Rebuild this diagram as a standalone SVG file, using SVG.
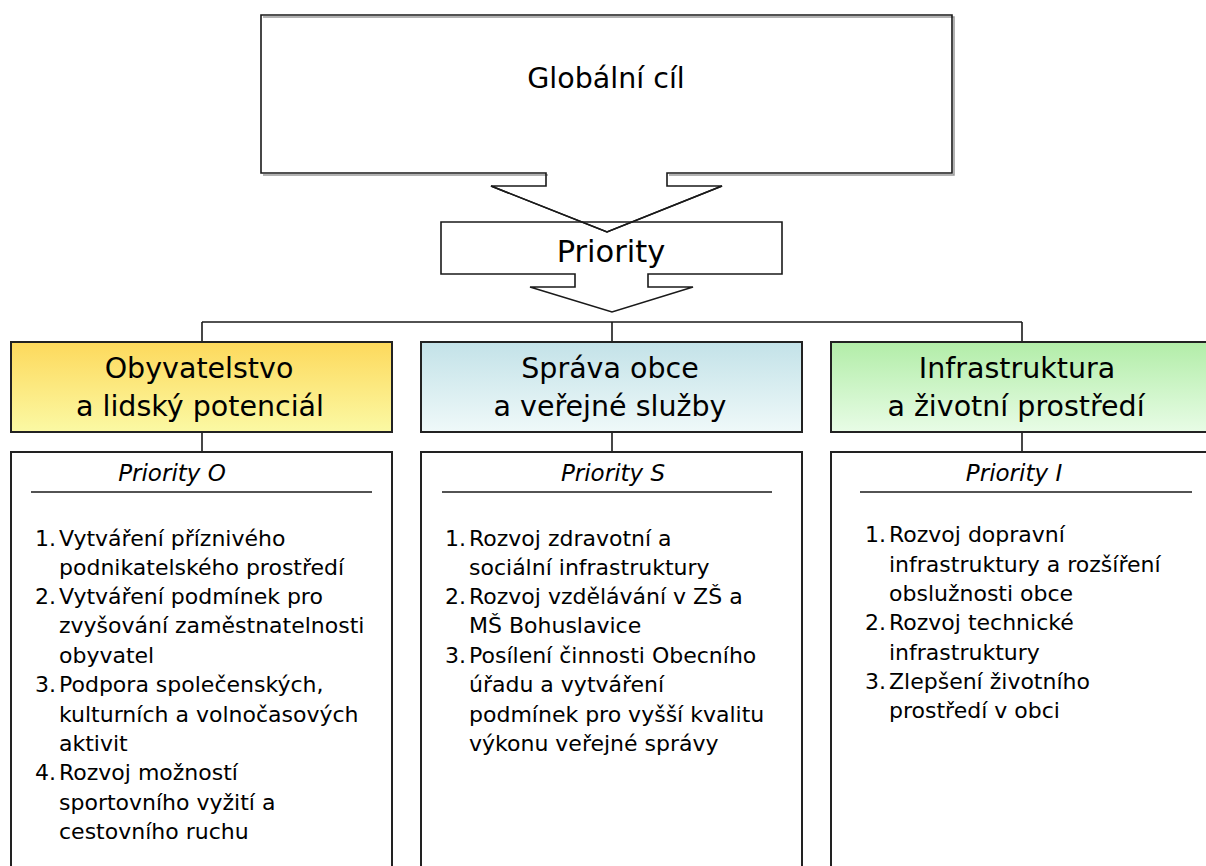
<svg xmlns="http://www.w3.org/2000/svg" width="1206" height="866" viewBox="0 0 1206 866">
<defs>
<linearGradient id="gY" x1="0" y1="0" x2="0" y2="1"><stop offset="0" stop-color="#FDD95C"/><stop offset="1" stop-color="#FBF9A4"/></linearGradient>
<linearGradient id="gB" x1="0" y1="0" x2="0" y2="1"><stop offset="0" stop-color="#C3E2E8"/><stop offset="1" stop-color="#EFF9F9"/></linearGradient>
<linearGradient id="gG" x1="0" y1="0" x2="0" y2="1"><stop offset="0" stop-color="#B2EDA8"/><stop offset="1" stop-color="#E8FCE6"/></linearGradient>
<style>
.ln{fill:none;stroke:#1a1a1a;stroke-width:1.6}
.bx{stroke:#222;stroke-width:2}
.shadow{fill:none;stroke:#999;stroke-width:1.5}
.t{font-family:"DejaVu Sans",sans-serif;fill:#000}
.big{font-size:28.5px;text-anchor:middle}
.sub{font-size:23px;font-style:italic;text-anchor:middle}
.li{font-size:22px}
</style>
</defs>
<g id="globalni-cil">
<path class="shadow" d="M263,17 H954 V175 H669 M548,175 H263"/>
<path d="M261,15 H952 V173 H667 V186 H722 L607,232 L491,186 H546 V173 H261 Z" class="ln" fill="#fff"/>
<text class="t big" x="606" y="88">Globální cíl</text>
</g>
<g id="priority">
<path d="M441,222 H782 V274 H648 V287 H693 L612,312 L530,287 H575 V274 H441 Z" class="ln" fill="none"/>
<path d="M491,186 L607,232 L722,186" class="ln"/>
<text class="t big" x="611" y="262" style="font-size:30.5px">Priority</text>
</g>
<g id="connectors">
<path class="ln" d="M202,322 H1022 M202,322 V342 M612,322 V342 M1022,322 V342 M202,432 V452 M612,432 V452 M1022,432 V452"/>
</g>
<g id="obyvatelstvo">
<rect class="bx" x="11" y="342" width="381" height="90" fill="url(#gY)"/>
<text class="t big" x="199" y="378">Obyvatelstvo</text>
<text class="t big" x="200" y="416">a lidský potenciál</text>
</g>
<g id="sprava">
<rect class="bx" x="421" y="342" width="381" height="90" fill="url(#gB)"/>
<text class="t big" x="610" y="378">Správa obce</text>
<text class="t big" x="610" y="416">a veřejné služby</text>
</g>
<g id="infrastruktura">
<rect class="bx" x="831" y="342" width="390" height="90" fill="url(#gG)"/>
<text class="t big" x="1017" y="378">Infrastruktura</text>
<text class="t big" x="1016" y="416">a životní prostředí</text>
</g>
<g id="priority-o">
<rect class="bx" x="11" y="452" width="381" height="430" fill="#fff"/>
<text class="t sub" x="172" y="481">Priority O</text>
<line class="ln" x1="31" y1="492" x2="372" y2="492"/>
<g class="t li">
<text x="35" y="546">1.</text><text x="59" y="546">Vytváření příznivého</text>
<text x="59" y="575">podnikatelského prostředí</text>
<text x="35" y="604">2.</text><text x="59" y="604">Vytváření podmínek pro</text>
<text x="59" y="633">zvyšování zaměstnatelnosti</text>
<text x="59" y="663">obyvatel</text>
<text x="35" y="692">3.</text><text x="59" y="692">Podpora společenských,</text>
<text x="59" y="722">kulturních a volnočasových</text>
<text x="59" y="751">aktivit</text>
<text x="35" y="780">4.</text><text x="59" y="780">Rozvoj možností</text>
<text x="59" y="810">sportovního vyžití a</text>
<text x="59" y="839">cestovního ruchu</text>
</g>
</g>
<g id="priority-s">
<rect class="bx" x="421" y="452" width="381" height="430" fill="#fff"/>
<text class="t sub" x="613" y="481">Priority S</text>
<line class="ln" x1="442" y1="492" x2="772" y2="492"/>
<g class="t li">
<text x="445" y="546">1.</text><text x="469" y="546">Rozvoj zdravotní a</text>
<text x="469" y="575">sociální infrastruktury</text>
<text x="445" y="604">2.</text><text x="469" y="604">Rozvoj vzdělávání v ZŠ a</text>
<text x="469" y="633">MŠ Bohuslavice</text>
<text x="445" y="663">3.</text><text x="469" y="663">Posílení činnosti Obecního</text>
<text x="469" y="692">úřadu a vytváření</text>
<text x="469" y="722">podmínek pro vyšší kvalitu</text>
<text x="469" y="751">výkonu veřejné správy</text>
</g>
</g>
<g id="priority-i">
<rect class="bx" x="831" y="452" width="390" height="430" fill="#fff"/>
<text class="t sub" x="1014" y="481">Priority I</text>
<line class="ln" x1="860" y1="492" x2="1192" y2="492"/>
<g class="t li">
<text x="865" y="542">1.</text><text x="889" y="542">Rozvoj dopravní</text>
<text x="889" y="572">infrastruktury a rozšíření</text>
<text x="889" y="601">obslužnosti obce</text>
<text x="865" y="630">2.</text><text x="889" y="630">Rozvoj technické</text>
<text x="889" y="660">infrastruktury</text>
<text x="865" y="689">3.</text><text x="889" y="689">Zlepšení životního</text>
<text x="889" y="718">prostředí v obci</text>
</g>
</g>
</svg>
